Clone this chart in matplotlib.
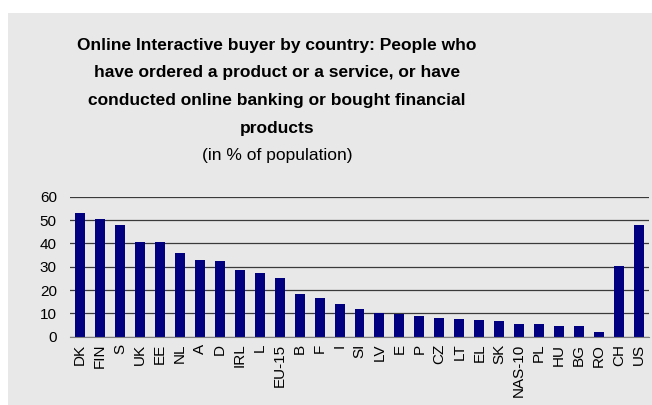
import matplotlib.pyplot as plt
from matplotlib.patches import Rectangle

countries = ['DK', 'FIN', 'S', 'UK', 'EE', 'NL', 'A', 'D', 'IRL', 'L', 'EU-15', 'B', 'F',
             'I', 'SI', 'LV', 'E', 'P', 'CZ', 'LT', 'EL', 'SK', 'NAS-10', 'PL', 'HU',
             'BG', 'RO', 'CH', 'US']
values = [53, 50.5, 48, 40.5, 40.5, 36, 33, 32.5, 28.7, 27.3, 25.2, 18.3, 16.6,
          14, 11.9, 10.2, 9.7, 8.9, 8, 7.6, 7.1, 6.7, 5.4, 5.4, 4.6,
          4.6, 2, 30.5, 48]
yticks = [0, 10, 20, 30, 40, 50, 60]

title_lines = ['Online Interactive buyer by country: People who',
               'have ordered a product or a service, or have',
               'conducted online banking or bought financial',
               'products']
subtitle = '(in % of population)'

plt.rcParams['font.family'] = ['Liberation Sans', 'DejaVu Sans']
GREY = '#e8e8e8'
W, H = 652, 405

fig = plt.figure(figsize=(W / 100, H / 100), dpi=100)
fig.patch.set_facecolor('white')
fig.patches.append(Rectangle((8 / W, 0), 1 - 8 / W, 1 - 13 / H,
                             transform=fig.transFigure, facecolor=GREY,
                             edgecolor='none', zorder=-10))

ax = fig.add_axes([70 / W, 68.3 / H, 579 / W, 140 / H])
ax.set_facecolor(GREY)
x = range(len(countries))
ax.bar(x, values, width=0.5, color='#000080', zorder=3)
ax.set_xlim(-0.5, len(countries) - 0.5)
ax.set_ylim(0, 60)
ax.set_yticks(yticks)
ax.set_xticks(list(x))
ax.set_xticklabels(countries, rotation=90, fontsize=11)
ax.tick_params(axis='y', length=0, labelsize=11, pad=9.5)
ax.tick_params(axis='x', length=0, pad=5)
ax.yaxis.grid(True, color='#3a3a3a', linewidth=0.9)
for s in ['left', 'right', 'top']:
    ax.spines[s].set_visible(False)
ax.spines['bottom'].set_color('#808080')
ax.spines['bottom'].set_zorder(4)

# title lines placed one by one (baselines)
for i, line in enumerate(title_lines):
    fig.text(277 / W, 1 - (50 + 27.5 * i) / H, line, ha='center', va='baseline',
             fontsize=12.5, fontweight='bold')
fig.text(277 / W, 1 - 160 / H, subtitle, ha='center', va='baseline', fontsize=12.5)

fig.savefig('out.png', dpi=100)
